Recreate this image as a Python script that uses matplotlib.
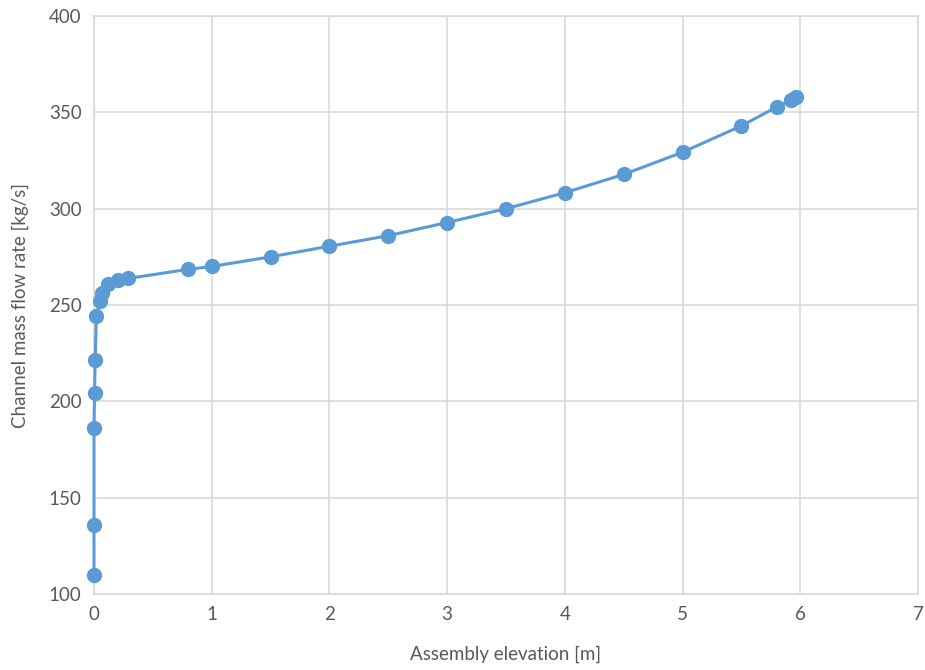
import matplotlib
matplotlib.use("Agg")
import matplotlib.pyplot as plt

# channel mass flow rate along assembly elevation
elevation = [0.0, 0.0, 0.0, 0.005, 0.01, 0.02, 0.05, 0.07, 0.12, 0.2, 0.29,
             0.8, 1.0, 1.5, 2.0, 2.5, 3.0, 3.5, 4.0, 4.5, 5.0, 5.5, 5.8, 5.92, 5.96]
mass_flow = [110, 136, 186, 204.5, 221.5, 244.5, 252, 256, 261, 263, 263.8,
             268.5, 270, 275, 280.5, 286, 292.8, 300, 308.3, 317.8, 329.3, 343, 352.8, 356.2, 358]

plt.rcParams['font.family'] = ['Lato', 'DejaVu Sans']
grey = '#595959'
blue = '#5B9BD5'

fig = plt.figure(figsize=(9.25, 6.7), dpi=100)
ax = fig.add_axes([94/925, 1-594/670, (918-94)/925, (594-16)/670])

ax.plot(elevation, mass_flow, color=blue, lw=2.2, marker='o', ms=10, zorder=3, clip_on=False)

ax.set_xlim(0, 7)
ax.set_ylim(100, 400)
ax.set_xticks(range(0, 8))
ax.set_yticks(range(100, 401, 50))
ax.grid(True, color='#D9D9D9', lw=1.2)
for s in ax.spines.values():
    s.set_color('#D9D9D9')
    s.set_linewidth(1.2)
ax.tick_params(length=0, colors=grey, labelsize=13.5, pad=9)
ax.set_xlabel('Assembly elevation [m]', color=grey, fontsize=13.5, labelpad=16)
ax.set_ylabel('Channel mass flow rate [kg/s]', color=grey, fontsize=13.5, labelpad=14)

fig.savefig('out.png', dpi=100)
